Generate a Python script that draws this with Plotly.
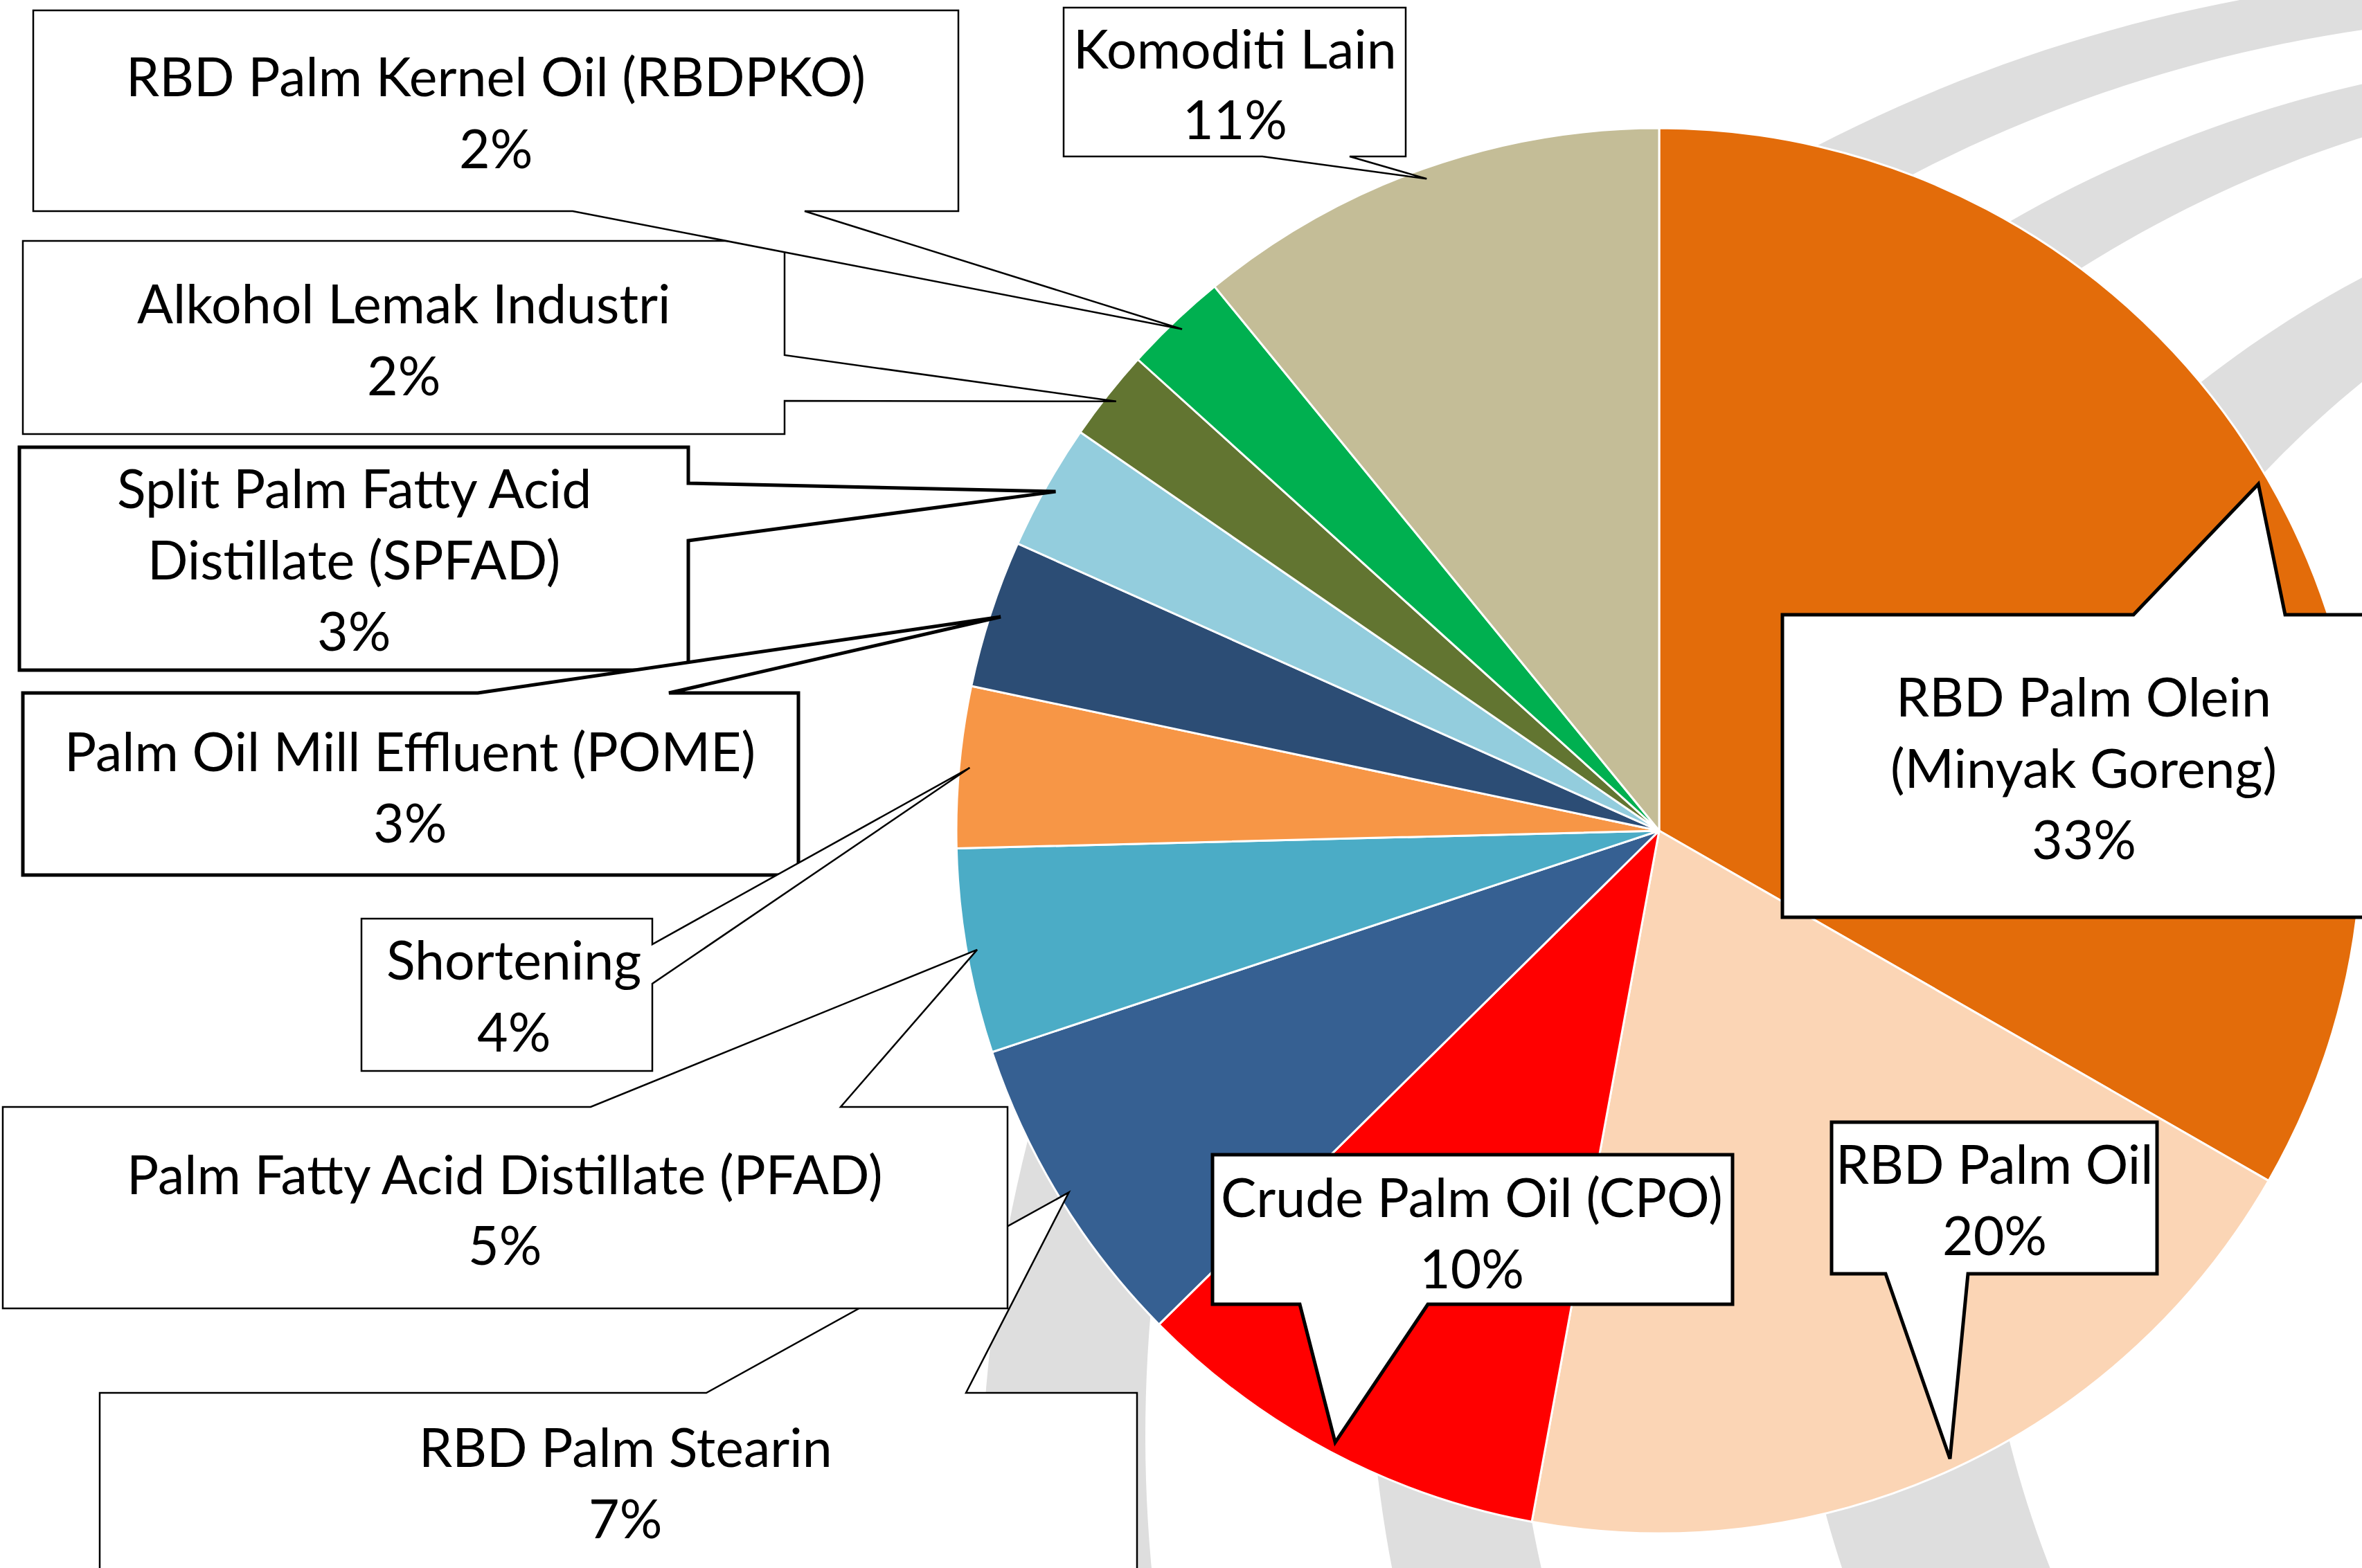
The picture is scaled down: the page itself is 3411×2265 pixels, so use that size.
import numpy as np
import plotly.graph_objects as go

W, H = 3411, 2265

# ---------------- data ----------------
labels = [
    "RBD Palm Olein (Minyak Goreng)",
    "RBD Palm Oil",
    "Crude Palm Oil (CPO)",
    "RBD Palm Stearin",
    "Palm Fatty Acid Distillate (PFAD)",
    "Shortening",
    "Palm Oil Mill Effluent (POME)",
    "Split Palm Fatty Acid Distillate (SPFAD)",
    "Alkohol Lemak Industri",
    "RBD Palm Kernel Oil (RBDPKO)",
    "Komoditi Lain",
]
values = [33.3, 19.6, 9.7, 7.3, 4.7, 3.7, 3.4, 2.9, 2.1, 2.4, 10.9]
label_lines = [
    ["RBD Palm Olein", "(Minyak Goreng)"],
    ["RBD Palm Oil"],
    ["Crude Palm Oil (CPO)"],
    ["RBD Palm Stearin"],
    ["Palm Fatty Acid Distillate (PFAD)"],
    ["Shortening"],
    ["Palm Oil Mill Effluent (POME)"],
    ["Split Palm Fatty Acid", "Distillate (SPFAD)"],
    ["Alkohol Lemak Industri"],
    ["RBD Palm Kernel Oil (RBDPKO)"],
    ["Komoditi Lain"],
]
colors = ["#E36C0A", "#FBD5B5", "#FF0000", "#366092", "#4BACC6", "#F79646",
          "#2C4D75", "#93CDDD", "#627531", "#00B050", "#C4BD97"]

# ---------------- layout (pixels) ----------------
CX, CY, R = 2396, 1200, 1015
LINE_H = 103
FONT_SIZE = 77

# callout boxes: (x0, y0, x1, y1), wedge edge, wedge base (b0, b1), text centre, border width
box_rect = [
    (2574, 888, 3444, 1325), (2645, 1621, 3115, 1840), (1751, 1668, 2502, 1884),
    (144, 2012, 1642, 2320), (4, 1599, 1455, 1890), (522, 1327, 942, 1547),
    (33, 1001, 1153, 1264), (28, 646, 994, 968), (33, 348, 1133, 627),
    (48, 15, 1384, 305), (1536, 11, 2030, 226),
]
box_edge = ["top", "bottom", "bottom", "top", "top", "right", "top", "right", "right", "bottom", "bottom"]
box_base = [(3081, 3300), (2723, 2842), (1877, 2062), (1020, 1395), (853, 1214), (1364, 1421),
            (690, 966), (698, 781), (513, 579), (827, 1162), (1823, 1949)]
text_pos = [(3009, 1108), (2880, 1731), (2125, 1779), (903, 2140), (729, 1746), (742, 1437),
            (592, 1135), (511, 807), (583, 489), (716, 161), (1783, 120)]
box_lw = [5, 5, 5, 2.5, 2.5, 2.5, 5, 5, 2.5, 2.5, 2.5]
draw_order = [0, 1, 2, 3, 4, 7, 6, 5, 8, 9, 10]


def px(x, y):
    return f"{x / W:.6f},{1 - y / H:.6f}"


fig = go.Figure()

fig.add_trace(go.Pie(
    labels=labels, values=values, sort=False, direction="clockwise", rotation=0,
    marker=dict(colors=colors, line=dict(color="white", width=3)),
    textinfo="none", hoverinfo="label+percent", showlegend=False,
    domain=dict(x=[(CX - R) / W, min(1.0, (CX + R) / W)], y=[1 - (CY + R) / H, 1 - (CY - R) / H]),
))

# ---------------- decorative grey arcs (background watermark) ----------------
bands = [
    ((3650, 2195, 2234), (3706, 2074, 2052)),
    ((3818, 1917, 1841), (3947, 1879, 1764)),
    ((4140, 1778, 1558), (4359, 1717, 1502)),
]
shapes = []
phi = np.linspace(np.pi - 0.6, 1.5 * np.pi + 0.15, 160)
for (ox, oy, orad), (ix, iy, irad) in bands:
    outer = [(ox + orad * np.cos(p), oy + orad * np.sin(p)) for p in phi]
    inner = [(ix + irad * np.cos(p), iy + irad * np.sin(p)) for p in phi[::-1]]
    pts = outer + inner
    path = "M " + " L ".join(px(x, y) for x, y in pts) + " Z"
    shapes.append(dict(type="path", xref="paper", yref="paper", path=path,
                       fillcolor="#DEDEDE", line=dict(width=0), layer="below"))

# ---------------- callouts ----------------
total = sum(values)
cum = np.cumsum([0] + values[:-1])
mid = [(c + v / 2) / total * 2 * np.pi for c, v in zip(cum, values)]
tips = [(CX + 0.985 * R * np.sin(t), CY - 0.985 * R * np.cos(t)) for t in mid]

for i in draw_order:
    x0, y0, x1, y1 = box_rect[i]
    b0, b1 = box_base[i]
    tip = tips[i]
    e = box_edge[i]
    pts = [(x0, y0)]
    if e == "top":
        pts += [(b0, y0), tip, (b1, y0)]
    pts.append((x1, y0))
    if e == "right":
        pts += [(x1, b0), tip, (x1, b1)]
    pts.append((x1, y1))
    if e == "bottom":
        pts += [(b1, y1), tip, (b0, y1)]
    pts.append((x0, y1))
    if e == "left":
        pts += [(x0, b1), tip, (x0, b0)]
    path = "M " + " L ".join(px(x, y) for x, y in pts) + " Z"
    shapes.append(dict(type="path", xref="paper", yref="paper", path=path,
                       fillcolor="white", line=dict(color="black", width=box_lw[i]),
                       layer="above"))

annotations = []
for i in range(len(labels)):
    pct = f"{round(values[i] / total * 100)}%"
    lines = label_lines[i] + [pct]
    n = len(lines)
    tx, ty = text_pos[i]
    for k, line in enumerate(lines):
        ly = ty + (k - (n - 1) / 2) * LINE_H
        annotations.append(dict(x=tx / W, y=1 - ly / H, xref="paper", yref="paper",
                                text=line, showarrow=False, xanchor="center", yanchor="middle",
                                align="center",
                                font=dict(family="Lato", size=FONT_SIZE, color="black")))

fig.update_layout(
    width=W, height=H, margin=dict(l=0, r=0, t=0, b=0),
    paper_bgcolor="white", plot_bgcolor="white",
    shapes=shapes, annotations=annotations, showlegend=False,
)

fig.write_html("out.html", config={"displayModeBar": False},
               post_script="document.body.style.margin='0px';")
